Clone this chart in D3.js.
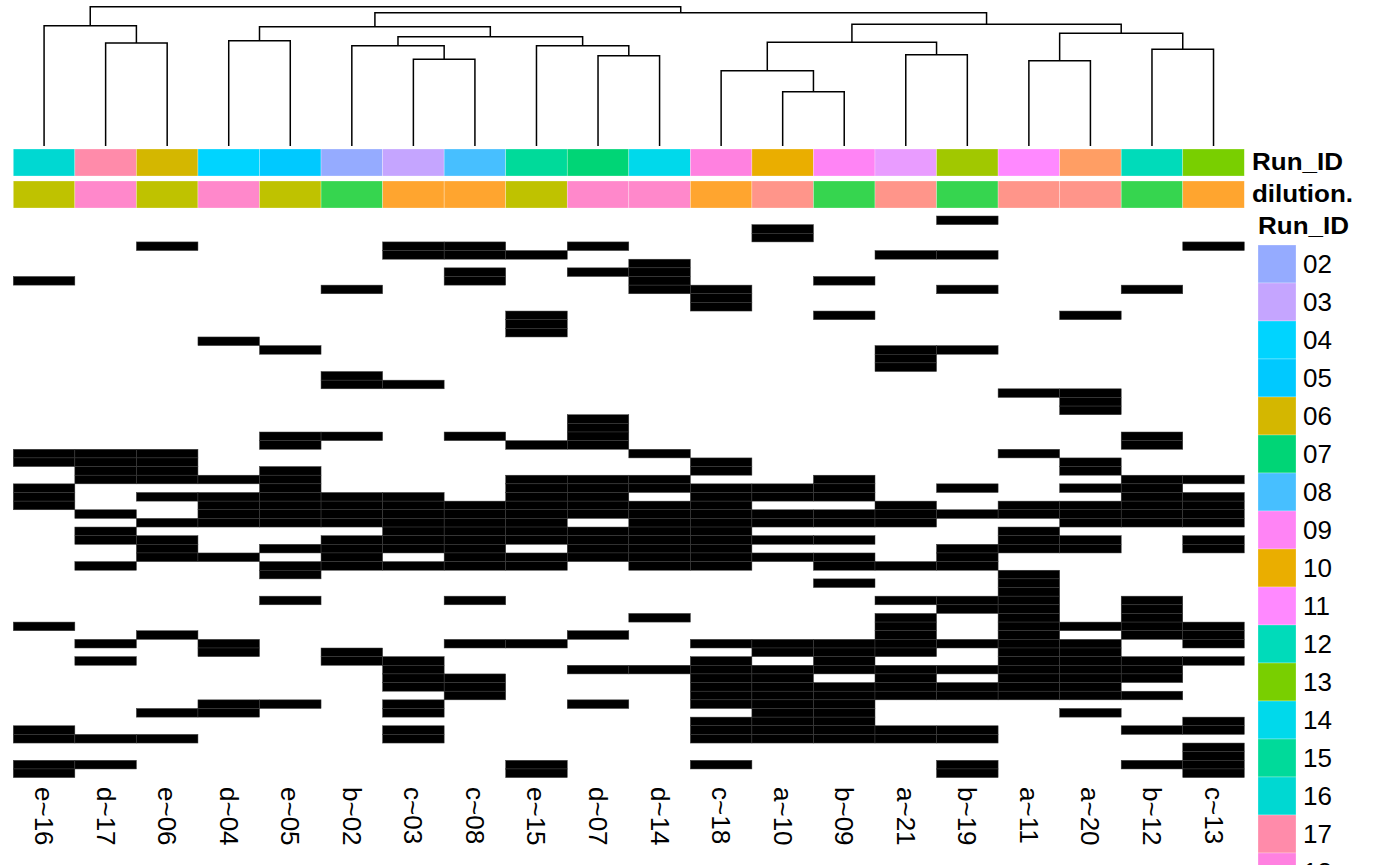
<!DOCTYPE html>
<html><head><meta charset="utf-8">
<script src="https://cdn.jsdelivr.net/npm/d3@7"></script>
<style>
body{margin:0;background:#fff;}
svg{display:block;}
text{font-family:"Liberation Sans",Arial,Helvetica,sans-serif;fill:#000;}
</style>
</head><body>
<svg id="chart" width="1400" height="865"></svg>
<script>
// ---------------- data ----------------
const samples = ["e~16","d~17","e~06","d~04","e~05","b~02","c~03","c~08","e~15","d~07",
                 "d~14","c~18","a~10","b~09","a~21","b~19","a~11","a~20","b~12","c~13"];
const sampleRunId = ["16","17","06","04","05","02","03","08","15","07",
                     "14","18","10","09","21","19","11","20","12","13"];
const sampleDilution = ["e","d","e","d","e","b","c","c","e","d",
                        "d","c","a","b","a","b","a","a","b","c"];
const runIdLevels = ["02","03","04","05","06","07","08","09","10","11",
                     "12","13","14","15","16","17","18","19","20","21"];
const runIdColors = ["#95ABFF","#C5A5FF","#00D4FF","#00C9FF","#D4B700","#00D576","#47BFFF","#FF84F5","#EAAE00","#FF89FF",
                     "#00DBBA","#79CF00","#00D9EB","#00DA9A","#00D8D2","#FF8BAA","#FF81E0","#A1C800","#FF9E64","#E99CFF"];
const dilutionLevels = ["a","b","c","d","e"];
const dilutionColors = ["#FF958A","#36D54F","#FFA52F","#FF88CB","#BFC200"];
const annotationNames = ["Run_ID","dilution."];

// presence matrix: one string per row, one character per sample (display order)
const presence = [
 "00000000000000010000","00000000000010000000","00000000000010000000","00100011010000000001",
 "00000011100000110000","00000000001000000000","00000001011000000000","10000001001001000000",
 "00000100001100010010","00000000000100000000","00000000000100000000","00000000100001000100",
 "00000000100000000000","00000000100000000000","00010000000000000000","00001000000000110000",
 "00000000000000100000","00000000000000100000","00000100000000000000","00000110000000000000",
 "00000000000000001100","00000000000000000100","00000000000000000100","00000000010000000000",
 "00000000010000000000","00001101010000000010","00001000110000000010","11100000001000001000",
 "11100000000100000100","01101000000100000100","01111000111001000011","10001000111111010110",
 "10111110110111000011","10011111111100101111","01011111111111111111","00111111101111100111",
 "01000011111100001000","01100111111111001101","00101111011100011101","00110101111111010000",
 "01001111101101110000","00001000000000001000","00000000000001001000","00000000000000001000",
 "00001001000000111010","00000000000000011010","00000000001000101010","10000000000000101111",
 "00100000010000101011","01010001100111111101","00010100000011101100","01000110000101001111",
 "00000010011111111110","00000011000110101110","00000011000111111100","00000001000111111110",
 "00011010010111000000","00110010000011000100","00000000000111000001","10000010000111110011",
 "11100010000111110000","00000000000000000001","00000000000000000001","11000000100100010011",
 "10000000100000010001"
];

// column dendrogram merges: [left, right, height]; strings = leaves, numbers = earlier merge
const merges = [
 ["a~10","b~09",54.3],
 ["c~18",0,75.3],
 ["a~11","a~20",85.3],
 ["c~03","c~08",86.7],
 ["d~07","d~14",90.3],
 ["a~21","b~19",91.3],
 ["b~12","c~13",96.7],
 ["b~02",3,100.3],
 ["e~15",4,100.3],
 ["d~17","e~06",103.0],
 [1,5,103.7],
 ["d~04","e~05",105.3],
 [7,8,109.3],
 [2,6,112.7],
 [11,12,119.3],
 ["e~16",9,120.3],
 [10,13,121.7],
 [14,16,133.3],
 [15,17,139.3]
];

// ---------------- drawing ----------------
const W = 1400, H = 865;
const svg = d3.select("#chart");
const rowIdx = d3.range(presence.length);

const x = d3.scaleBand().domain(samples).range([13.3, 1244.3]).padding(0);
const y = d3.scaleBand().domain(rowIdx).range([216, 777.6]).padding(0);
const hY = d3.scaleLinear().domain([0, d3.max(merges, m => m[2])]).range([146, 6.7]);
const runColor = d3.scaleOrdinal().domain(runIdLevels).range(runIdColors);
const dilColor = d3.scaleOrdinal().domain(dilutionLevels).range(dilutionColors);

// bold titles: slightly wider glyphs than the regular font
function boldTitle(g, tx, ty, txt, baseline) {
  g.append("text")
    .attr("transform", `translate(${tx},${ty}) scale(1.13,1)`)
    .attr("dominant-baseline", baseline || "central")
    .attr("font-size", 23).attr("font-weight", "bold").text(txt);
}

// dendrogram
const merged = [];
const info = r => typeof r === "string" ? {x: x(r) + x.bandwidth()/2, h: 0} : merged[r];
const paths = merges.map((m, i) => {
  const a = info(m[0]), b = info(m[1]), h = m[2];
  merged[i] = {x: (a.x + b.x)/2, h};
  return `M${a.x},${hY(a.h)}V${hY(h)}H${b.x}V${hY(b.h)}`;
});
svg.append("g").selectAll("path").data(paths).join("path")
  .attr("d", d => d).attr("fill", "none").attr("stroke", "#000").attr("stroke-width", 1.5);

// annotation bars
const annRows = [
  {name: annotationNames[0], vals: sampleRunId, color: runColor, y0: 149, h: 27},
  {name: annotationNames[1], vals: sampleDilution, color: dilColor, y0: 181, h: 27}
];
annRows.forEach(a => {
  svg.append("g").selectAll("rect").data(samples).join("rect")
    .attr("x", d => x(d)).attr("y", a.y0)
    .attr("width", x.bandwidth()).attr("height", a.h)
    .attr("fill", (d, i) => a.color(a.vals[i]))
    .attr("stroke", "#fff").attr("stroke-opacity", 0.45).attr("stroke-width", 0.6);
  boldTitle(svg, 1252, a.y0 + a.h/2, a.name);
});

// heatmap cells
const cells = [];
presence.forEach((row, r) => {
  row.split("").forEach((v, c) => { if (v === "1") cells.push({r, s: samples[c]}); });
});
svg.append("g").selectAll("rect").data(cells).join("rect")
  .attr("x", d => x(d.s)).attr("y", d => y(d.r))
  .attr("width", x.bandwidth()).attr("height", y.bandwidth())
  .attr("fill", "#000").attr("stroke", "#3c3c3c").attr("stroke-width", 0.5);

// column labels
svg.append("g").selectAll("text").data(samples).join("text")
  .attr("transform", d => `translate(${x(d) + x.bandwidth()/2},787) rotate(90)`)
  .attr("text-anchor", "start").attr("dominant-baseline", "central")
  .attr("font-size", 26).text(d => d);

// legend (only the part that falls inside the picture is drawn)
const lg = svg.append("g");
boldTitle(lg, 1258, 234, annotationNames[0], "alphabetic");
const item = 38, top0 = 245;
const visibleLevels = runIdLevels.filter((d, i) => top0 + i*item < H);
lg.selectAll("rect").data(visibleLevels).join("rect")
  .attr("x", 1258).attr("y", (d, i) => top0 + i*item)
  .attr("width", 38).attr("height", item)
  .attr("fill", d => runColor(d))
  .attr("stroke", "#fff").attr("stroke-opacity", 0.45).attr("stroke-width", 0.6);
lg.selectAll("text.lab").data(visibleLevels).join("text").attr("class", "lab")
  .attr("x", 1303).attr("y", (d, i) => top0 + i*item + item/2)
  .attr("dominant-baseline", "central").attr("font-size", 26).text(d => d);
</script>
</body></html>
